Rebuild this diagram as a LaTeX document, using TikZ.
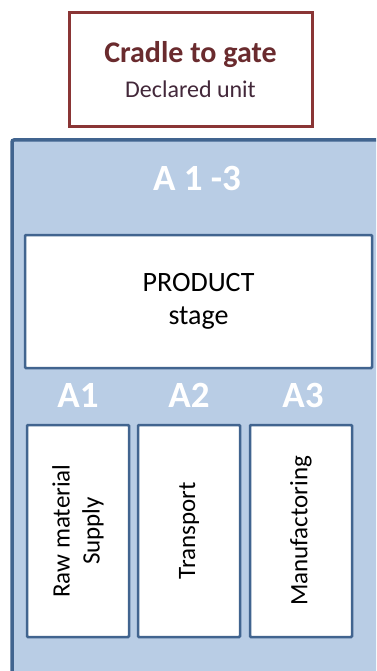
\documentclass[tikz,border=0pt]{standalone}
\usepackage{fontspec}
\setmainfont{Carlito}
\usetikzlibrary{positioning}

\definecolor{rojoosc}{HTML}{8A3535}
\definecolor{textorojo}{HTML}{6A2B2E}
\definecolor{textoosc}{HTML}{43283A}
\definecolor{azulfondo}{HTML}{B9CDE5}
\definecolor{azulborde}{HTML}{41648F}

\begin{document}
\begin{tikzpicture}[x=1pt,y=-1pt,
  caja/.style={draw=azulborde,line width=2.5pt,fill=white,rounded corners=1pt,inner sep=0pt,outer sep=0pt},
  modulo/.style={caja,minimum width=102pt,minimum height=212pt},
  etiqueta/.style={text=white,anchor=base,font=\bfseries\fontsize{37}{42}\selectfont},
  vertical/.style={rotate=90,align=center,font=\fontsize{25}{30}\selectfont}]
  \clip (0,0) rectangle (376,671);

  % Recuadro superior
  \node[draw=rojoosc,line width=3pt,fill=white,minimum width=243pt,minimum height=114pt] (limite) at (190.5,70) {};
  \node[anchor=base,text=textorojo,font=\bfseries\fontsize{30}{36}\selectfont] (titulo) at (190.5,63) {Cradle to gate};
  \node[anchor=base,text=textoosc,font=\fontsize{24}{29}\selectfont] (unidad) at (190.5,98) {Declared unit};

  % Panel azul
  \node[draw=azulborde,fill=azulfondo,line width=3.5pt,rounded corners=2pt,minimum width=383pt,minimum height=560pt] (panel) at (203.5,420) {};
  \node[etiqueta] (modulos) at (197,190) {A 1 -3};

  % Etapa de producto
  \node[caja,minimum width=347pt,minimum height=133pt,align=center,font=\fontsize{28}{33}\selectfont] (producto) at (198.5,301.5) {PRODUCT\\stage};

  % Modulos A1, A2, A3
  \node[modulo] (a1) at (78,531) {};
  \node[modulo,right=9pt of a1] (a2) {};
  \node[modulo,right=10pt of a2] (a3) {};

  \node[etiqueta] (e1) at (78,407) {A1};
  \node[etiqueta] (e2) at (189,407) {A2};
  \node[etiqueta] (e3) at (303,407) {A3};

  \node[vertical] (t1) at (a1.center) {Raw material\\Supply};
  \node[vertical] (t2) at (a2.center) {Transport};
  \node[vertical] (t3) at (a3.center) {Manufactoring};
\end{tikzpicture}
\end{document}
